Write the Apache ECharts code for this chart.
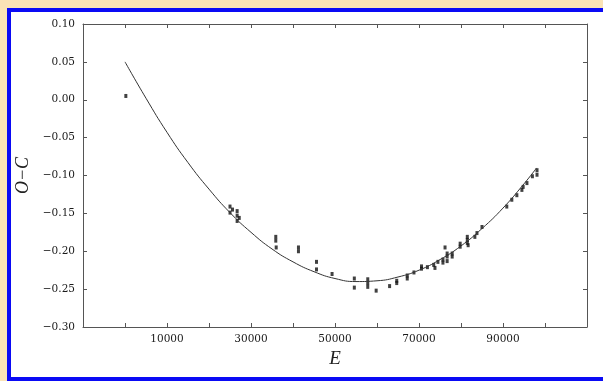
<!DOCTYPE html>
<html>
<head>
<meta charset="utf-8">
<script src="https://cdn.jsdelivr.net/npm/echarts@6/dist/echarts.min.js"></script>
<style>
  html, body { margin: 0; padding: 0; }
  body { width: 603px; height: 381px; background: #fae3b6; position: relative; overflow: hidden; }
  #frame {
    position: absolute; left: 7px; top: 8px; width: 600px; height: 365px;
    border: 4px solid #0a0af5; border-right: none; background: #fff;
  }
  #chart { position: absolute; left: 0; top: 0; width: 603px; height: 381px; }
</style>
</head>
<body>
<div id="frame"></div>
<div id="chart"></div>
<script>
// observed O-C points (E, O-C)
const obsE = [
  200,
  25000, 25000, 25600, 26700, 26700, 26700, 27200,
  35900, 35900, 36000,
  41300, 41300,
  45600, 45600,
  49300,
  54600, 54600,
  57800, 57800, 57800,
  59800,
  63000, 64700, 64700,
  67200, 67200,
  68800,
  70600, 70600,
  72000,
  73500, 73800,
  74500,
  75700, 75700,
  76200,
  76700, 76700, 76700,
  77900, 77900,
  79800, 79800,
  81500, 81500, 81500, 81700,
  83300, 83800,
  85000,
  90900, 92100, 93300, 94500, 94800, 95700, 97000, 98100, 98100
];
const obsOC = [
  0.005,
  -0.141, -0.149, -0.145, -0.147, -0.153, -0.160, -0.156,
  -0.181, -0.186, -0.195,
  -0.195, -0.200,
  -0.214, -0.224,
  -0.230,
  -0.236, -0.248,
  -0.237, -0.242, -0.247,
  -0.252,
  -0.246, -0.242, -0.239,
  -0.236, -0.232,
  -0.228,
  -0.223, -0.220,
  -0.221,
  -0.218, -0.222,
  -0.214,
  -0.215, -0.211,
  -0.195,
  -0.207, -0.213, -0.203,
  -0.203, -0.207,
  -0.194, -0.190,
  -0.189, -0.185, -0.181, -0.192,
  -0.181, -0.176,
  -0.168,
  -0.141, -0.132, -0.126, -0.119, -0.115, -0.110, -0.101, -0.093, -0.099
];

// fitted curve
const fitE = [0, 5000, 10000, 15000, 20000, 25000, 30000, 35000, 40000, 45000, 50000,
  55000, 60000, 65000, 70000, 75000, 80000, 85000, 90000, 95000, 98000];
const fitOC = [0.050, 0.002, -0.043, -0.083, -0.118, -0.149, -0.175, -0.197, -0.214, -0.227, -0.236,
  -0.240, -0.239, -0.234, -0.225, -0.211, -0.193, -0.170, -0.143, -0.111, -0.090];

// x tick labels that are printed
const xTickLabels = [10000, 30000, 50000, 70000, 90000];

const chart = echarts.init(document.getElementById('chart'));

const axisColor = '#555';
const labelFont = {
  fontFamily: 'DejaVu Serif',
  fontSize: 10.5,
  color: '#1a1a1a'
};

const fmtY = (v) => {
  if (Math.abs(v) < 1e-9) return '0.00';
  return v.toFixed(2).replace('-', '\u2212');
};

const xBase = {
  type: 'value',
  min: -10000,
  max: 110000,
  interval: 10000,
  splitLine: { show: false },
  axisLine: { show: true, onZero: false, lineStyle: { color: axisColor, width: 1 } },
  axisTick: { show: true, inside: true, length: 4, lineStyle: { color: axisColor } }
};
const yBase = {
  type: 'value',
  min: -0.30,
  max: 0.10,
  interval: 0.05,
  splitLine: { show: false },
  axisLine: { show: true, onZero: false, lineStyle: { color: axisColor, width: 1 } },
  axisTick: { show: true, inside: true, length: 4, lineStyle: { color: axisColor } }
};

const option = {
  animation: false,
  backgroundColor: 'transparent',
  grid: { left: 83, right: 16, top: 24, bottom: 54 },
  xAxis: [
    Object.assign({}, xBase, {
      position: 'bottom',
      name: 'E',
      nameLocation: 'middle',
      nameGap: 20,
      nameTextStyle: { fontFamily: 'Liberation Serif', fontStyle: 'italic', fontSize: 19, color: '#222' },
      axisLabel: Object.assign({}, labelFont, {
        margin: 7,
        formatter: (v) => (xTickLabels.indexOf(v) >= 0 ? String(v) : '')
      })
    }),
    Object.assign({}, xBase, { position: 'top', axisLabel: { show: false } })
  ],
  yAxis: [
    Object.assign({}, yBase, {
      position: 'left',
      name: 'O\u2212C',
      nameLocation: 'middle',
      nameGap: 48,
      nameTextStyle: { fontFamily: 'Liberation Serif', fontStyle: 'italic', fontSize: 18, color: '#222' },
      axisLabel: Object.assign({}, labelFont, { margin: 8, formatter: fmtY })
    }),
    Object.assign({}, yBase, { position: 'right', axisLabel: { show: false } })
  ],
  series: [
    {
      name: 'fit',
      type: 'line',
      smooth: true,
      showSymbol: false,
      lineStyle: { color: '#333', width: 1 },
      data: fitE.map((e, i) => [e, fitOC[i]])
    },
    {
      name: 'obs',
      type: 'scatter',
      symbol: 'rect',
      symbolSize: [3, 4],
      itemStyle: { color: '#111' },
      data: obsE.map((e, i) => [e, obsOC[i]])
    }
  ]
};
chart.setOption(option);
</script>
</body>
</html>
